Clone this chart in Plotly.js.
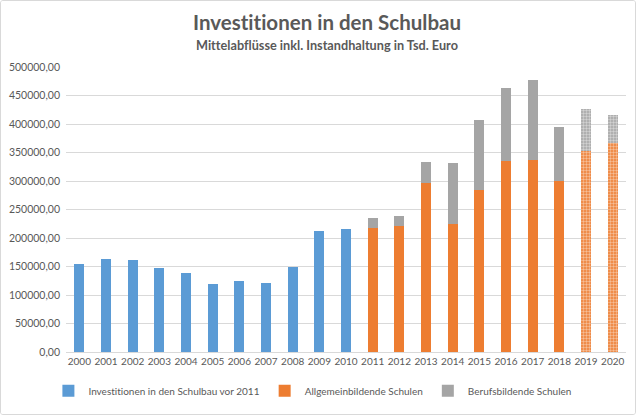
<!DOCTYPE html>
<html><head><meta charset="utf-8">
<script src="https://cdn.plot.ly/plotly-3.0.1.min.js"></script>
<style>
html,body{margin:0;padding:0;background:#fff;}
#wrap{width:634px;height:413px;border:1px solid #D9D9D9;border-radius:3px;overflow:hidden;}
#chart{width:634px;height:413px;}
svg text, svg tspan{font-variant-ligatures:none !important;font-feature-settings:"liga" 0, "clig" 0 !important;}
</style></head>
<body><div id="wrap"><div id="chart"></div></div>
<script>
const years = ['2000','2001','2002','2003','2004','2005','2006','2007','2008','2009','2010','2011','2012','2013','2014','2015','2016','2017','2018','2019','2020'];
const yearsBefore = ['2000','2001','2002','2003','2004','2005','2006','2007','2008','2009','2010'];
const yearsAfter = ['2011','2012','2013','2014','2015','2016','2017','2018','2019','2020'];
const investVor2011 = [155000,164000,161500,147000,138000,119000,125300,121900,149500,212600,215500];
const allgemeinbildend = [218400,221900,296500,225300,283900,335600,337300,300500,352900,366100];
const berufsbildend = [16100,17100,37500,106900,123000,128200,139100,93800,73000,48900];
const patternShapes = ['','','','','','','','','.','.'];
const yTickVals = [0,50000,100000,150000,200000,250000,300000,350000,400000,450000,500000];
const yTickText = ['0,00','50000,00','100000,00','150000,00','200000,00','250000,00','300000,00','350000,00','400000,00','450000,00','500000,00'];

const fontFam = 'Lato, "Open Sans", sans-serif';
const grey = '#595959';

const traces = [
  {type:'bar', name:'Investitionen in den Schulbau vor 2011', x:yearsBefore, y:investVor2011,
   marker:{color:'#5B9BD5'}},
  {type:'bar', name:'Allgemeinbildende Schulen', x:yearsAfter, y:allgemeinbildend,
   marker:{color:'#ED7D31', pattern:{shape:patternShapes, fgcolor:'rgba(255,255,255,0.5)', bgcolor:'#ED7D31', size:3, solidity:0.5}}},
  {type:'bar', name:'Berufsbildende Schulen', x:yearsAfter, y:berufsbildend,
   marker:{color:'#A5A5A5', pattern:{shape:patternShapes, fgcolor:'rgba(255,255,255,0.5)', bgcolor:'#A5A5A5', size:3, solidity:0.5}}}
];

const layout = {
  width:634, height:413,
  margin:{l:65, r:9, t:66, b:56},
  paper_bgcolor:'#fff', plot_bgcolor:'#fff',
  barmode:'stack', bargap:0.62,
  font:{family:fontFam, color:grey, size:11},
  showlegend:true,
  legend:{orientation:'h', x:0.44, xanchor:'center', y:-0.085, yanchor:'top', font:{size:10, color:grey}, traceorder:'normal', itemwidth:30, bgcolor:'rgba(0,0,0,0)'},
  xaxis:{type:'category', categoryorder:'array', categoryarray:years, showgrid:false, showline:true, linecolor:'#D9D9D9', ticks:'', tickangle:0, tickfont:{size:10,color:grey}, automargin:false, fixedrange:true},
  yaxis:{range:[0,500000], tickvals:yTickVals, ticktext:yTickText, showgrid:true, gridcolor:'#D9D9D9', zeroline:false, showline:false, ticks:'', tickfont:{size:10.5,color:grey}, automargin:false, ticklabelstandoff:5},
  annotations:[
    {text:'<b>Investitionen in den Schulbau</b>', xref:'paper', yref:'paper', x:0.466, y:1, yshift:45, xanchor:'center', yanchor:'middle', showarrow:false, font:{size:20.5, color:grey, family:fontFam}},
    {text:'<b>Mittelabflüsse inkl. Instandhaltung in Tsd. Euro</b>', xref:'paper', yref:'paper', x:0.466, y:1, yshift:22, xanchor:'center', yanchor:'middle', showarrow:false, font:{size:12.7, color:grey, family:fontFam}}
  ]
};
Plotly.newPlot('chart', traces, layout, {displayModeBar:false, staticPlot:true});
</script></body></html>
